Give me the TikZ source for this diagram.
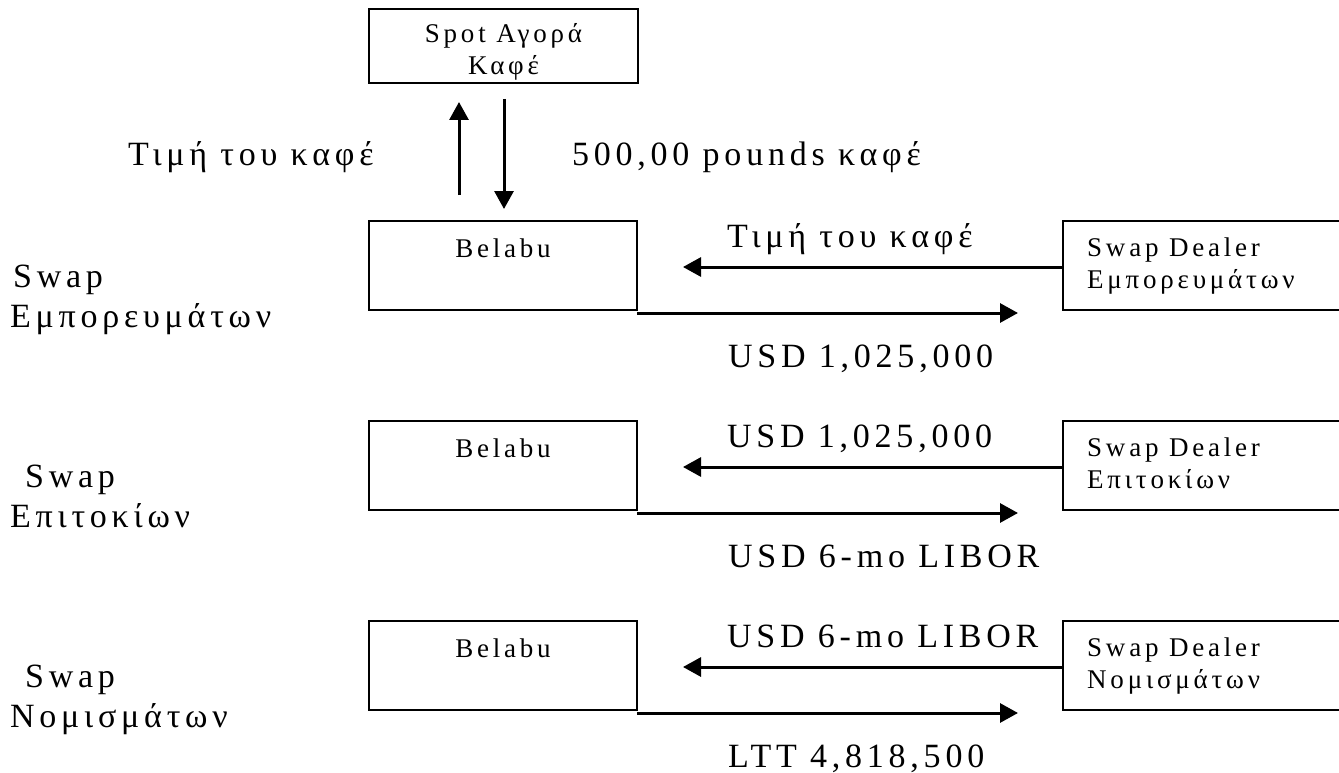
\documentclass[tikz,border=0pt]{standalone}
\usepackage{fontspec}
\setmainfont{Liberation Serif}
\newfontfamily\spacedf[LetterSpace=14]{Liberation Serif}
\usetikzlibrary{arrows.meta}
\tikzset{
  box/.style={draw, line width=2pt, inner sep=0pt, outer sep=0pt},
  bigtxt/.style={font=\spacedf\fontsize{34}{40}\selectfont, inner sep=0pt, anchor=base west},
  smalltxt/.style={font=\spacedf\fontsize{27}{32}\selectfont, inner sep=0pt},
  arr/.style={line width=3pt, -{Triangle[length=18pt,width=19pt]}},
}
\begin{document}
\begin{tikzpicture}[x=1pt,y=-1pt]
\path[use as bounding box] (0,0) rectangle (1339,773);
\clip (0,0) rectangle (1339,773);
% top box
\node[box, minimum width=269pt, minimum height=74pt, anchor=north west] (spot) at (369,9) {};
\node[smalltxt, anchor=base] (spott1) at (503.5,43) {Spot Αγορά};
\node[smalltxt, anchor=base] (spott2) at (503.5,75) {Καφέ};
\coordinate (upS) at (459,195);
\coordinate (upE) at (459,102);
\coordinate (dnS) at (504,99);
\coordinate (dnE) at (504,209);
\draw[arr] (upS) -- (upE);
\draw[arr] (dnS) -- (dnE);
\node[bigtxt] (price0) at (128,165) {Τιμή του καφέ};
\node[bigtxt] (pounds) at (572,165) {500,00 pounds καφέ};
% rows
\foreach \T/\n/\la/\lb/\ra/\sx in {
  221/1/{Τιμή του καφέ}/{USD 1,025,000}/{Εμπορευμάτων}/13,
  421/2/{USD 1,025,000}/{USD 6-mo LIBOR}/{Επιτοκίων}/25,
  621/3/{USD 6-mo LIBOR}/{LTT 4,818,500}/{Νομισμάτων}/25}{
  \node[box, minimum width=268pt, minimum height=89pt, anchor=north west] (b\n) at (369,\T) {};
  \node[smalltxt, anchor=base] (bt\n) at (503,\T+36) {Belabu};
  \node[box, minimum width=320pt, minimum height=89pt, anchor=north west] (d\n) at (1063,\T) {};
  \node[smalltxt, anchor=base west] (dt\n) at (1087,\T+35) {Swap Dealer};
  \node[smalltxt, anchor=base west] (du\n) at (1087,\T+67) {\ra};
  \coordinate (l\n) at (683,\T+46);
  \coordinate (r\n) at (1018,\T+92);
  \draw[arr] (d\n.west |- l\n) -- (l\n);
  \draw[arr] (b\n.south east |- r\n) -- (r\n);
  \node[bigtxt] (la\n) at (727,\T+26) {\la};
  \node[bigtxt] (lb\n) at (728,\T+146) {\lb};
  \node[bigtxt] (sw\n) at (\sx,\T+66) {Swap};
  \node[bigtxt] (sn\n) at (10,\T+106) {\ra};
}
\end{tikzpicture}
\end{document}
